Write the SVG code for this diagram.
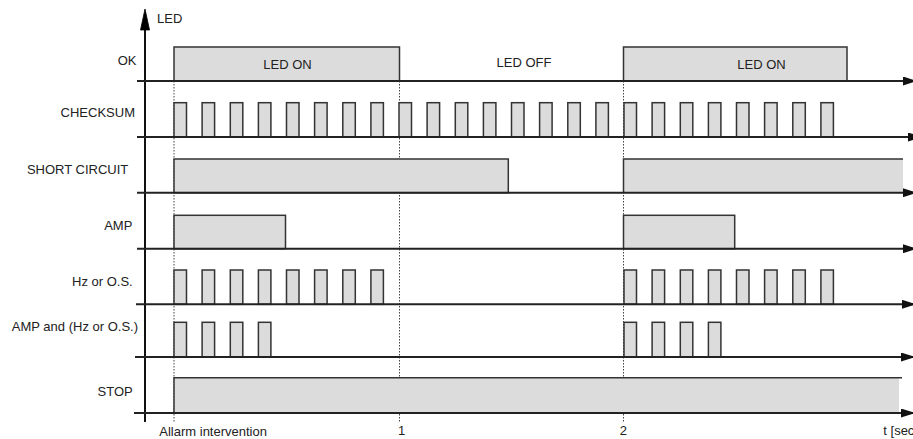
<svg xmlns="http://www.w3.org/2000/svg" width="913" height="439" viewBox="0 0 913 439">
<defs>
<style>
text{font-family:"Liberation Sans",Arial,sans-serif;font-size:13px;fill:#222}
.lbl{text-anchor:end}
.mid{text-anchor:middle}
.p{fill:#dcdcdc;stroke:#333;stroke-width:1.5}
.base{stroke:#222;stroke-width:2;fill:none}
.dot{stroke:#444;stroke-width:1;stroke-dasharray:1.5,1.5;fill:none}
.ax{stroke:#111;stroke-width:2;fill:none}
.head{fill:#000;stroke:#000;stroke-width:0.8}
</style>
<marker id="ah" markerUnits="userSpaceOnUse" markerWidth="14" markerHeight="9" refX="14" refY="4.5" orient="auto">
<path d="M0,0 L14,4.5 L0,9 Z" fill="#111"/>
</marker>
</defs>
<rect width="913" height="439" fill="#fff"/>

<g id="connectors">
<line class="ax" x1="145" y1="422" x2="145" y2="26"/>
<polygon class="head" points="145,9 149.5,30 140.5,30"/>
<line class="dot" x1="174" y1="81" x2="174" y2="423"/>
<line class="dot" x1="399.5" y1="81" x2="399.5" y2="423"/>
<line class="dot" x1="623.5" y1="81" x2="623.5" y2="423"/>
</g>

<text x="157" y="23.3">LED</text>

<g id="row-ok">
<text class="lbl" x="136.5" y="65">OK</text>
<rect class="p" x="174" y="47" width="225.5" height="34"/>
<rect class="p" x="623.5" y="47" width="223.5" height="34"/>
<line class="base" x1="137" y1="81" x2="917" y2="81" marker-end="url(#ah)"/>
<text class="mid" x="287.5" y="69.3">LED ON</text>
<text class="mid" x="524" y="66.7">LED OFF</text>
<text class="mid" x="761.5" y="69.3">LED ON</text>
</g>

<g id="row-checksum">
<text class="lbl" x="135" y="117.3">CHECKSUM</text>
<g>
<rect class="p" x="174" y="102.7" width="12.5" height="34.3"/>
<rect class="p" x="202.1" y="102.7" width="12.5" height="34.3"/>
<rect class="p" x="230.3" y="102.7" width="12.5" height="34.3"/>
<rect class="p" x="258.4" y="102.7" width="12.5" height="34.3"/>
<rect class="p" x="286.5" y="102.7" width="12.5" height="34.3"/>
<rect class="p" x="314.6" y="102.7" width="12.5" height="34.3"/>
<rect class="p" x="342.8" y="102.7" width="12.5" height="34.3"/>
<rect class="p" x="370.9" y="102.7" width="12.5" height="34.3"/>
<rect class="p" x="399" y="102.7" width="12.5" height="34.3"/>
<rect class="p" x="427.1" y="102.7" width="12.5" height="34.3"/>
<rect class="p" x="455.3" y="102.7" width="12.5" height="34.3"/>
<rect class="p" x="483.4" y="102.7" width="12.5" height="34.3"/>
<rect class="p" x="511.5" y="102.7" width="12.5" height="34.3"/>
<rect class="p" x="539.6" y="102.7" width="12.5" height="34.3"/>
<rect class="p" x="567.8" y="102.7" width="12.5" height="34.3"/>
<rect class="p" x="595.9" y="102.7" width="12.5" height="34.3"/>
<rect class="p" x="624" y="102.7" width="12.5" height="34.3"/>
<rect class="p" x="652.1" y="102.7" width="12.5" height="34.3"/>
<rect class="p" x="680.3" y="102.7" width="12.5" height="34.3"/>
<rect class="p" x="708.4" y="102.7" width="12.5" height="34.3"/>
<rect class="p" x="736.5" y="102.7" width="12.5" height="34.3"/>
<rect class="p" x="764.6" y="102.7" width="12.5" height="34.3"/>
<rect class="p" x="792.8" y="102.7" width="12.5" height="34.3"/>
<rect class="p" x="820.9" y="102.7" width="12.5" height="34.3"/>
</g>
<line class="base" x1="137" y1="137" x2="922" y2="137" marker-end="url(#ah)"/>
</g>

<g id="row-short-circuit">
<text class="lbl" x="128.3" y="174.3">SHORT CIRCUIT</text>
<rect class="p" x="174" y="159" width="334.3" height="33.7"/>
<rect x="623.5" y="159" width="279.5" height="33.7" fill="#dcdcdc"/>
<path d="M623.5,192.7 V159 H903" stroke="#333" stroke-width="1.5" fill="none"/>
<line class="base" x1="137" y1="192.7" x2="917" y2="192.7" marker-end="url(#ah)"/>
</g>

<g id="row-amp">
<text class="lbl" x="132.3" y="230">AMP</text>
<rect class="p" x="174" y="215.3" width="111.5" height="33.4"/>
<rect class="p" x="623.5" y="215.3" width="111.2" height="33.4"/>
<line class="base" x1="137" y1="248.7" x2="917" y2="248.7" marker-end="url(#ah)"/>
</g>

<g id="row-hz">
<text class="lbl" x="132.7" y="285.7">Hz or O.S.</text>
<rect class="p" x="174" y="270" width="12.5" height="34.3"/>
<rect class="p" x="202.1" y="270" width="12.5" height="34.3"/>
<rect class="p" x="230.3" y="270" width="12.5" height="34.3"/>
<rect class="p" x="258.4" y="270" width="12.5" height="34.3"/>
<rect class="p" x="286.5" y="270" width="12.5" height="34.3"/>
<rect class="p" x="314.6" y="270" width="12.5" height="34.3"/>
<rect class="p" x="342.8" y="270" width="12.5" height="34.3"/>
<rect class="p" x="370.9" y="270" width="12.5" height="34.3"/>
<rect class="p" x="624" y="270" width="12.5" height="34.3"/>
<rect class="p" x="652.1" y="270" width="12.5" height="34.3"/>
<rect class="p" x="680.3" y="270" width="12.5" height="34.3"/>
<rect class="p" x="708.4" y="270" width="12.5" height="34.3"/>
<rect class="p" x="736.5" y="270" width="12.5" height="34.3"/>
<rect class="p" x="764.6" y="270" width="12.5" height="34.3"/>
<rect class="p" x="792.8" y="270" width="12.5" height="34.3"/>
<rect class="p" x="820.9" y="270" width="12.5" height="34.3"/>
<line class="base" x1="136" y1="304.3" x2="916" y2="304.3" marker-end="url(#ah)"/>
</g>

<g id="row-amp-and">
<text class="lbl" x="138" y="330.7">AMP and (Hz or O.S.)</text>
<rect class="p" x="174" y="322.3" width="12.5" height="34.7"/>
<rect class="p" x="202.1" y="322.3" width="12.5" height="34.7"/>
<rect class="p" x="230.3" y="322.3" width="12.5" height="34.7"/>
<rect class="p" x="258.4" y="322.3" width="12.5" height="34.7"/>
<rect class="p" x="624" y="322.3" width="12.5" height="34.7"/>
<rect class="p" x="652.1" y="322.3" width="12.5" height="34.7"/>
<rect class="p" x="680.3" y="322.3" width="12.5" height="34.7"/>
<rect class="p" x="708.4" y="322.3" width="12.5" height="34.7"/>
<line class="base" x1="135" y1="357" x2="915" y2="357" marker-end="url(#ah)"/>
</g>

<g id="row-stop">
<text class="lbl" x="132.7" y="396">STOP</text>
<rect x="174" y="377.7" width="725" height="35.3" fill="#dcdcdc"/>
<path d="M174,413 V377.7 H902" stroke="#333" stroke-width="1.5" fill="none"/>
<line class="base" x1="134" y1="413" x2="915" y2="413" marker-end="url(#ah)"/>
</g>

<g id="time-axis-labels">
<text x="159.3" y="436">Allarm intervention</text>
<text class="mid" x="401.7" y="435">1</text>
<text class="mid" x="623.3" y="435">2</text>
<text x="883.3" y="435">t [sec]</text>
</g>
</svg>
